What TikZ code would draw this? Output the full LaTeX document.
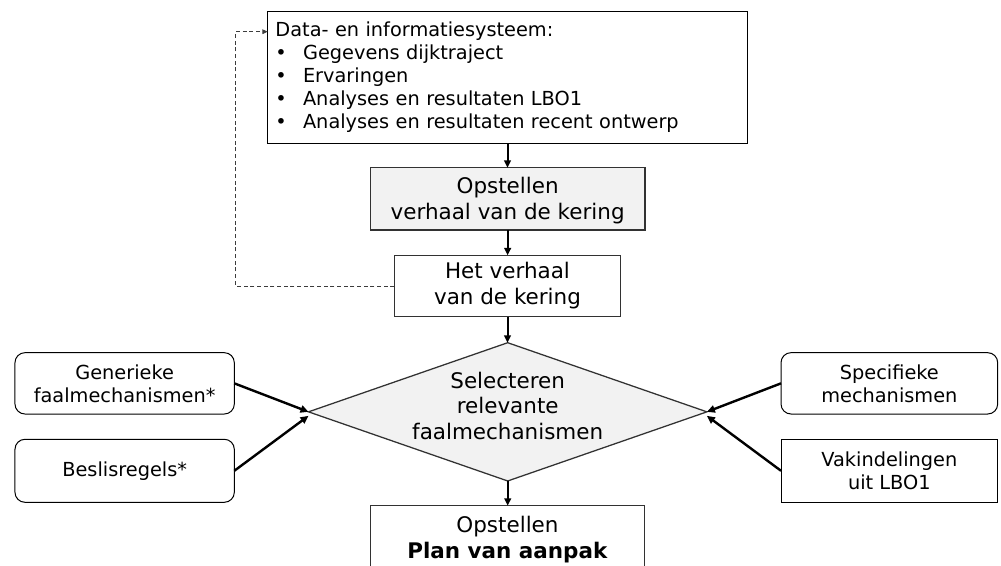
\documentclass[tikz,border=0pt]{standalone}
\usepackage{fontspec}
\setmainfont{DejaVu Sans}
\usetikzlibrary{shapes.geometric,arrows.meta}
\definecolor{shadegray}{RGB}{242,242,242}
\definecolor{dashgray}{RGB}{60,60,60}
\definecolor{framegray}{RGB}{50,50,50}
\begin{document}
\begin{tikzpicture}[x=0.75pt,y=-0.75pt,
  every node/.style={inner sep=0pt, outer sep=0pt},
  frame/.style={draw=black, line width=0.75pt},
  midframe/.style={draw=framegray, line width=0.95pt},
  bigtext/.style={align=center, font=\fontsize{16.1pt}{19.4pt}\selectfont},
  smalltext/.style={align=center, font=\fontsize{14.5pt}{17.3pt}\selectfont},
  shaded/.style={fill=shadegray},
  roundbox/.style={rounded corners=7.5pt},
  arrflow/.style={line width=1.5pt, -{Triangle[length=5.5pt,width=5pt]}},
  arrfeed/.style={line width=1.8pt, -{Triangle[length=6pt,width=5.5pt]}},
  arrback/.style={line width=0.7pt, draw=dashgray, dash pattern=on 3pt off 2pt, -{Triangle[length=4pt,width=3.5pt]}}]
\useasboundingbox (0,0) rectangle (1001,566);
\fill[white] (0,0) rectangle (1001,566);
\clip (0,0) rectangle (1001,566);

\node[frame, smalltext, align=left, inner xsep=5.8pt, text width=348.1pt, minimum height=98.7pt] (info) at (507.5,77.5)
  {Data- en informatiesysteem:\\
   \makebox[20.7pt][l]{•}Gegevens dijktraject\\
   \makebox[20.7pt][l]{•}Ervaringen\\
   \makebox[20.7pt][l]{•}Analyses en resultaten LBO1\\
   \makebox[20.7pt][l]{•}Analyses en resultaten recent ontwerp};

\node[midframe, shaded, bigtext, minimum width=206pt, minimum height=46.7pt] (opst) at (507.65,198.85)
  {\rule{0pt}{14.5pt}Opstellen\\verhaal van de kering};

\node[midframe, bigtext, minimum width=169.8pt, minimum height=46.05pt] (verhaal) at (507.5,286)
  {Het verhaal\\van de kering};

\node[diamond, midframe, shaded, minimum width=298.8pt, minimum height=103.7pt] (sel) at (507.7,411.85) {};
\node[bigtext] (seltxt) at ([yshift=4.4pt]sel.center) {Selecteren\\relevante\\faalmechanismen};

\node[midframe, bigtext, minimum width=205.2pt, minimum height=51.2pt] (plan) at (507.5,539.85)
  {Opstellen\\\textbf{Plan van aanpak}};

\node[frame, roundbox, smalltext, minimum width=164.5pt, minimum height=46pt] (gen) at (124.65,383.35)
  {Generieke\\faalmechanismen*};
\node[frame, roundbox, smalltext, minimum width=164.5pt, minimum height=47.25pt] (besl) at (124.65,470.8)
  {Beslisregels*};
\node[frame, roundbox, smalltext, minimum width=162.5pt, minimum height=46pt] (spec) at (889.35,383.35)
  {Specifieke\\mechanismen};
\node[frame, smalltext, minimum width=162.5pt, minimum height=47.25pt] (vak) at (889.35,470.8)
  {Vakindelingen\\uit LBO1};

\draw[arrflow] (info.south) -- (info.south |- opst.north);
\draw[arrflow] (opst.south) -- (opst.south |- verhaal.north);
\draw[arrflow] (verhaal.south) -- (verhaal.south |- sel.north);
\draw[arrflow] (sel.south) -- (sel.south |- plan.north);

\draw[arrfeed] (gen.east) -- (sel.west);
\draw[arrfeed] (besl.east) -- ([yshift=-3pt]sel.west);
\draw[arrfeed] (spec.west) -- (sel.east);
\draw[arrfeed] (vak.west) -- ([yshift=-3pt]sel.east);

\coordinate (dcorner) at (235.7,31.7);
\draw[arrback] (verhaal.west) -| (dcorner) -- (dcorner -| info.west);
\end{tikzpicture}
\end{document}
